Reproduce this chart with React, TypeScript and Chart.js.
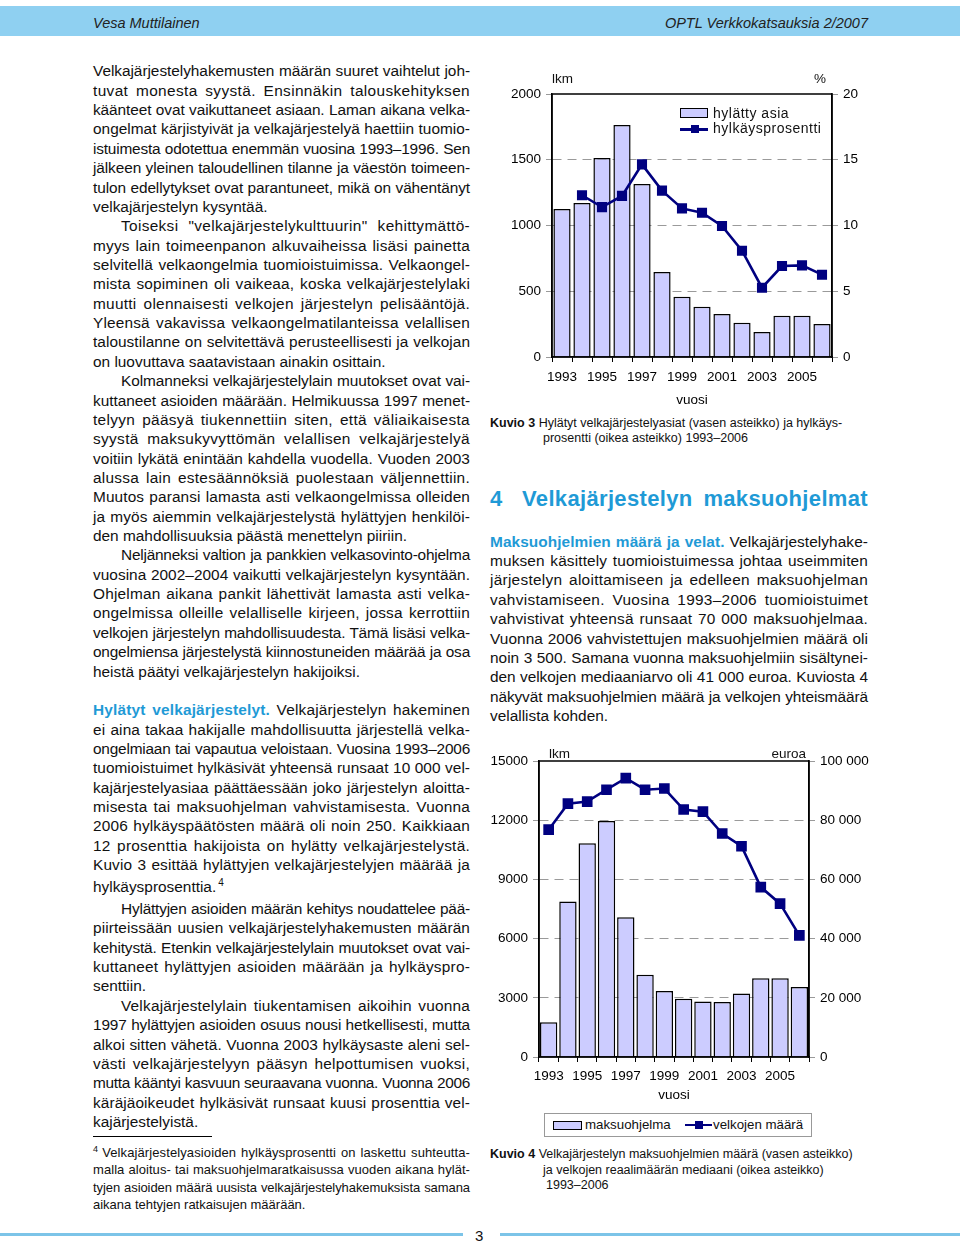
import React, { useEffect, useLayoutEffect, useRef } from 'react';
import { Chart, registerables } from 'chart.js';

Chart.register(...registerables);

// ---------- data ----------
const years = ['1993', '1994', '1995', '1996', '1997', '1998', '1999', '2000', '2001', '2002', '2003', '2004', '2005', '2006'];
const yearTickLabels = ['1993', '', '1995', '', '1997', '', '1999', '', '2001', '', '2003', '', '2005', ''];
const rejectedCases = [1125, 1171, 1513, 1764, 1316, 646, 459, 383, 327, 261, 190, 314, 314, 251];
const rejectionPercent = [null, 12.3, 11.4, 12.25, 14.65, 12.65, 11.3, 10.97, 9.96, 8.08, 5.27, 6.92, 6.97, 6.26];
const paymentPrograms = [1755, 7877, 10826, 11955, 7083, 4164, 3339, 2951, 2816, 2782, 3221, 3997, 3997, 3541];
const debtMedianEur = [76800, 85600, 86300, 90300, 94200, 90300, 90700, 83600, 82900, 75500, 71200, 57400, 51800, 41100];
const casesAxis = { min: 0, max: 2000, step: 500 };
const percentAxis = { min: 0, max: 20, step: 5 };
const programsAxis = { min: 0, max: 15000, step: 3000 };
const euroAxis = { min: 0, max: 100000, step: 20000 };

const FONT = '"Liberation Sans", Arial, Helvetica, sans-serif';
const BLUE = '#1f9ad6';
const NAVY = '#000080';
const BAR = '#ccccff';
const GRID = '#9a9a9a';

Chart.defaults.font.family = FONT;

const framePlugin = {
  id: 'frame',
  afterDatasetsDraw(chart: any) {
    const { ctx, chartArea: a } = chart;
    ctx.save();
    ctx.strokeStyle = '#000';
    ctx.lineWidth = 1.5;
    ctx.strokeRect(a.left, a.top, a.right - a.left, a.bottom - a.top);
    ctx.restore();
  },
};

function makeConfig(o: any) {
  const gridColor = (min: number, max: number) => (c: any) =>
    c.tick && (c.tick.value === min || c.tick.value === max) ? 'rgba(0,0,0,0)' : GRID;
  return {
    type: 'bar',
    data: {
      labels: years,
      datasets: [
        {
          type: 'line',
          data: o.line,
          yAxisID: 'y1',
          borderColor: NAVY,
          backgroundColor: NAVY,
          borderWidth: 2.6,
          pointStyle: 'rect',
          pointRadius: o.pointRadius,
          pointBackgroundColor: NAVY,
          pointBorderColor: NAVY,
          tension: 0,
          order: 0,
        },
        {
          type: 'bar',
          data: o.bars,
          yAxisID: 'y',
          backgroundColor: BAR,
          borderColor: '#000',
          borderWidth: 1.5,
          barPercentage: o.barPct,
          categoryPercentage: 1,
          order: 1,
        },
      ],
    },
    options: {
      responsive: false,
      animation: false,
      events: [],
      layout: { padding: { top: o.padTop, left: 0, right: 0, bottom: 0 } },
      plugins: { legend: { display: false }, tooltip: { enabled: false } },
      scales: {
        x: {
          grid: { display: true, drawOnChartArea: false, drawTicks: true, tickLength: 5, tickColor: '#000', offset: true },
          border: { display: true, color: '#000', width: 1.5 },
          ticks: {
            autoSkip: false, maxRotation: 0, minRotation: 0, padding: o.xPad, color: '#000',
            font: { size: o.fs }, callback: (_v: any, i: number) => yearTickLabels[i],
          },
          title: { display: true, text: 'vuosi', color: '#000', font: { size: o.fs }, padding: { top: 0, bottom: 2 } },
          afterFit: (s: any) => { s.height = o.xH; },
        },
        y: {
          position: 'left',
          min: o.left.min, max: o.left.max,
          ticks: { stepSize: o.left.step, padding: 5, color: '#000', font: { size: o.fs }, callback: (v: any) => String(v) },
          grid: { color: gridColor(o.left.min, o.left.max), lineWidth: 1, tickLength: 6, tickColor: GRID, tickBorderDash: [] },
          border: { display: true, color: '#000', width: 1.5, dash: [9, 6] },
          afterFit: (s: any) => { s.width = o.yW; },
        },
        y1: {
          position: 'right',
          min: o.right.min, max: o.right.max,
          ticks: { stepSize: o.right.step, padding: 5, color: '#000', font: { size: o.fs }, callback: o.rightFmt },
          grid: { drawOnChartArea: false, tickLength: 6, tickColor: GRID },
          border: { display: true, color: '#000', width: 1.5 },
          afterFit: (s: any) => { s.width = o.y1W; },
        },
      },
    },
    plugins: [framePlugin],
  };
}

function ChartBox({ left, top, width, height, make }: any) {
  const ref = useRef<HTMLCanvasElement>(null);
  useEffect(() => {
    const chart = new Chart(ref.current as HTMLCanvasElement, make() as any);
    return () => chart.destroy();
  }, []);
  return <canvas ref={ref} width={width} height={height} style={{ position: 'absolute', left, top, width, height }} />;
}

function At({ x, right, y, fs, children, style }: any) {
  const s: any = { position: 'absolute', top: y - 0.8465 * fs, fontSize: fs, lineHeight: `${fs}px`, whiteSpace: 'nowrap', ...style };
  if (right !== undefined) s.right = 960 - right; else s.left = x;
  return <div style={s}>{children}</div>;
}

// A justified line: tracking is nudged so the line fits its measure, word gaps take the rest.
function FitLine({ children, width, indent = 0, last = false, h, pt = 0, lh, share = 0.6, cap = 0.9 }: any) {
  const box = useRef<HTMLDivElement>(null);
  const span = useRef<HTMLSpanElement>(null);
  useLayoutEffect(() => {
    const d = box.current as HTMLDivElement;
    const sp = span.current as HTMLSpanElement;
    if (!d || !sp) return;
    d.style.textAlign = 'left';
    d.style.textAlignLast = 'left';
    d.style.whiteSpace = 'nowrap';
    sp.style.letterSpacing = '0px';
    const w = sp.getBoundingClientRect().width;
    const n = Math.max(1, (sp.textContent || '').length);
    const avail = width - indent;
    const diff = avail - w;
    let ls = 0;
    if (diff < 0) ls = diff / n - 0.03;
    else if (!last) ls = Math.min((diff * share) / n, cap);
    sp.style.letterSpacing = `${ls}px`;
    d.style.whiteSpace = 'normal';
    d.style.textAlign = last ? 'left' : 'justify';
    d.style.textAlignLast = last ? 'left' : 'justify';
  }, []);
  return (
    <div
      ref={box}
      style={{
        height: h, paddingTop: pt, boxSizing: 'border-box', lineHeight: `${lh}px`,
        textAlign: last ? 'left' : 'justify', textAlignLast: last ? 'left' : 'justify', textIndent: indent,
      } as any}
    >
      <span ref={span}>{children}</span>
    </div>
  );
}

// ---------- text ----------
const lead = (t: string) => <span style={{ color: BLUE, fontWeight: 'bold' }}>{t}</span>;

const leftColumn: any[] = [
  { t: 'Velkajärjestelyhakemusten määrän suuret vaihtelut joh-' },
  { t: 'tuvat monesta syystä. Ensinnäkin talouskehityksen' },
  { t: 'käänteet ovat vaikuttaneet asiaan. Laman aikana velka-' },
  { t: 'ongelmat kärjistyivät ja velkajärjestelyä haettiin tuomio-' },
  { t: 'istuimesta odotettua enemmän vuosina 1993–1996. Sen' },
  { t: 'jälkeen yleinen taloudellinen tilanne ja väestön toimeen-' },
  { t: 'tulon edellytykset ovat parantuneet, mikä on vähentänyt' },
  { t: 'velkajärjestelyn kysyntää.', last: true },
  { t: 'Toiseksi "velkajärjestelykulttuurin" kehittymättö-', ind: true },
  { t: 'myys lain toimeenpanon alkuvaiheissa lisäsi painetta' },
  { t: 'selvitellä velkaongelmia tuomioistuimissa. Velkaongel-' },
  { t: 'mista sopiminen oli vaikeaa, koska velkajärjestelylaki' },
  { t: 'muutti olennaisesti velkojen järjestelyn pelisääntöjä.' },
  { t: 'Yleensä vakavissa velkaongelmatilanteissa velallisen' },
  { t: 'taloustilanne on selvitettävä perusteellisesti ja velkojan' },
  { t: 'on luovuttava saatavistaan ainakin osittain.', last: true },
  { t: 'Kolmanneksi velkajärjestelylain muutokset ovat vai-', ind: true },
  { t: 'kuttaneet asioiden määrään. Helmikuussa 1997 menet-' },
  { t: 'telyyn pääsyä tiukennettiin siten, että väliaikaisesta' },
  { t: 'syystä maksukyvyttömän velallisen velkajärjestelyä' },
  { t: 'voitiin lykätä enintään kahdella vuodella. Vuoden 2003' },
  { t: 'alussa lain estesäännöksiä puolestaan väljennettiin.' },
  { t: 'Muutos paransi lamasta asti velkaongelmissa olleiden' },
  { t: 'ja myös aiemmin velkajärjestelystä hylättyjen henkilöi-' },
  { t: 'den mahdollisuuksia päästä menettelyn piiriin.', last: true },
  { t: 'Neljänneksi valtion ja pankkien velkasovinto-ohjelma', ind: true },
  { t: 'vuosina 2002–2004 vaikutti velkajärjestelyn kysyntään.' },
  { t: 'Ohjelman aikana pankit lähettivät lamasta asti velka-' },
  { t: 'ongelmissa olleille velalliselle kirjeen, jossa kerrottiin' },
  { t: 'velkojen järjestelyn mahdollisuudesta. Tämä lisäsi velka-' },
  { t: 'ongelmiensa järjestelystä kiinnostuneiden määrää ja osa' },
  { t: 'heistä päätyi velkajärjestelyn hakijoiksi.', last: true },
  { t: '', last: true },
  { t: <>{lead('Hylätyt velkajärjestelyt.')} Velkajärjestelyn hakeminen</> },
  { t: 'ei aina takaa hakijalle mahdollisuutta järjestellä velka-' },
  { t: 'ongelmiaan tai vapautua veloistaan. Vuosina 1993–2006' },
  { t: 'tuomioistuimet hylkäsivät yhteensä runsaat 10 000 vel-' },
  { t: 'kajärjestelyasiaa päättäessään joko järjestelyn aloitta-' },
  { t: 'misesta tai maksuohjelman vahvistamisesta. Vuonna' },
  { t: '2006 hylkäyspäätösten määrä oli noin 250. Kaikkiaan' },
  { t: '12 prosenttia hakijoista on hylätty velkajärjestelystä.' },
  { t: 'Kuvio 3 esittää hylättyjen velkajärjestelyjen määrää ja' },
  { t: <>hylkäysprosenttia.<sup style={{ fontSize: 10, lineHeight: 0, marginLeft: 2 }}>4</sup></>, last: true, sup: true },
  { t: 'Hylättyjen asioiden määrän kehitys noudattelee pää-', ind: true },
  { t: 'piirteissään uusien velkajärjestelyhakemusten määrän' },
  { t: 'kehitystä. Etenkin velkajärjestelylain muutokset ovat vai-' },
  { t: 'kuttaneet hylättyjen asioiden määrään ja hylkäyspro-' },
  { t: 'senttiin.', last: true },
  { t: 'Velkajärjestelylain tiukentamisen aikoihin vuonna', ind: true },
  { t: '1997 hylättyjen asioiden osuus nousi hetkellisesti, mutta' },
  { t: 'alkoi sitten vähetä. Vuonna 2003 hylkäysaste aleni sel-' },
  { t: 'västi velkajärjestelyyn pääsyn helpottumisen vuoksi,' },
  { t: 'mutta kääntyi kasvuun seuraavana vuonna. Vuonna 2006' },
  { t: 'käräjäoikeudet hylkäsivät runsaat kuusi prosenttia vel-' },
  { t: 'kajärjestelyistä.', last: true },
];

const rightColumn: any[] = [
  { t: <>{lead('Maksuohjelmien määrä ja velat.')} Velkajärjestelyhake-</> },
  { t: 'muksen käsittely tuomioistuimessa johtaa useimmiten' },
  { t: 'järjestelyn aloittamiseen ja edelleen maksuohjelman' },
  { t: 'vahvistamiseen. Vuosina 1993–2006 tuomioistuimet' },
  { t: 'vahvistivat yhteensä runsaat 70 000 maksuohjelmaa.' },
  { t: 'Vuonna 2006 vahvistettujen maksuohjelmien määrä oli' },
  { t: 'noin 3 500. Samana vuonna maksuohjelmiin sisältynei-' },
  { t: 'den velkojen mediaaniarvo oli 41 000 euroa. Kuviosta 4' },
  { t: 'näkyvät maksuohjelmien määrä ja velkojen yhteismäärä' },
  { t: 'velallista kohden.', last: true },
];

const footnote: any[] = [
  { t: <><sup style={{ fontSize: 9, lineHeight: 0, marginRight: 4 }}>4</sup>Velkajärjestelyasioiden hylkäysprosentti on laskettu suhteutta-</> },
  { t: 'malla aloitus- tai maksuohjelmaratkaisussa vuoden aikana hylät-' },
  { t: 'tyjen asioiden määrä uusista velkajärjestelyhakemuksista samana' },
  { t: 'aikana tehtyjen ratkaisujen määrään.', last: true },
];

function Block({ lines, left, top, width, fs, lh }: any) {
  return (
    <div style={{ position: 'absolute', left, top, width, fontSize: fs }}>
      {lines.map((l: any, i: number) => (
        <FitLine
          key={i}
          width={width}
          indent={l.ind ? 28 : 0}
          last={!!l.last}
          h={l.sup ? lh + 5.2 : lh}
          pt={l.sup ? 2.6 : 0}
          lh={lh}
        >
          {l.t}
        </FitLine>
      ))}
    </div>
  );
}

const euroFmt = (v: any) => (v === 0 ? '0' : `${v / 1000} 000`);

export default function App() {
  return (
    <div style={{ position: 'absolute', left: 0, top: 0, width: 960, height: 1243, overflow: 'hidden', background: '#fff', fontFamily: FONT, color: '#111' }}>
      {/* header */}
      <div style={{ position: 'absolute', left: 0, top: 6, width: 960, height: 30, background: '#8fd0f1' }} />
      <At x={93} y={28} fs={14.5} style={{ fontStyle: 'italic', color: '#222' }}>Vesa Muttilainen</At>
      <At right={868} y={28} fs={14.5} style={{ fontStyle: 'italic', color: '#222' }}>OPTL Verkkokatsauksia 2/2007</At>

      {/* left column */}
      <Block lines={leftColumn} left={93} top={61.4} width={377} fs={15.4} lh={19.36} />
      <div style={{ position: 'absolute', left: 93, top: 1136, width: 119, height: 1, background: '#000' }} />
      <Block lines={footnote} left={93} top={1144.4} width={377} fs={13} lh={17.1} />

      {/* chart 3 */}
      <ChartBox
        left={495} top={60} width={380} height={350}
        make={() => makeConfig({
          bars: rejectedCases, line: rejectionPercent, left: casesAxis, right: percentAxis,
          padTop: 34, yW: 57, y1W: 43, xH: 53, xPad: 7.5, fs: 13.5, barPct: 0.86, pointRadius: 5.3,
          rightFmt: (v: any) => `${v}`,
        })}
      />
      <At x={552} y={83.3} fs={13.5}>lkm</At>
      <At right={826} y={83.3} fs={13.5}>%</At>
      <div style={{ position: 'absolute', left: 680, top: 108, width: 28, height: 10, background: BAR, border: '1.5px solid #000', boxSizing: 'border-box' }} />
      <At x={713} y={118.3} fs={14} style={{ letterSpacing: 0.5 }}>hylätty asia</At>
      <div style={{ position: 'absolute', left: 680, top: 128, width: 28, height: 2.6, background: NAVY }} />
      <div style={{ position: 'absolute', left: 690.5, top: 125.3, width: 8, height: 8, background: NAVY }} />
      <At x={713} y={133.3} fs={14} style={{ letterSpacing: 0.5 }}>hylkäysprosentti</At>

      <At x={490} y={428} fs={12.5}><b>Kuvio 3</b> Hylätyt velkajärjestelyasiat (vasen asteikko) ja hylkäys-</At>
      <At x={543} y={443} fs={12.5}>prosentti (oikea asteikko) 1993–2006</At>

      {/* heading */}
      <At x={490} y={506.7} fs={22} style={{ color: BLUE, fontWeight: 'bold' }}>4</At>
      <div style={{ position: 'absolute', left: 522, top: 506.7 - 0.8465 * 22, width: 346, fontSize: 22, color: BLUE, fontWeight: 'bold' }}>
        <FitLine width={346} lh={22} h={22} share={0.7} cap={1.2}>Velkajärjestelyn maksuohjelmat</FitLine>
      </div>

      <Block lines={rightColumn} left={490} top={531.7} width={378} fs={15.4} lh={19.4} />

      {/* chart 4 */}
      <ChartBox
        left={485} top={740} width={390} height={365}
        make={() => makeConfig({
          bars: paymentPrograms, line: debtMedianEur, left: programsAxis, right: euroAxis,
          padTop: 21, yW: 54, y1W: 66, xH: 48, xPad: 6.5, fs: 13.5, barPct: 0.9, pointRadius: 5.7,
          rightFmt: euroFmt,
        })}
      />
      <At x={549} y={758.3} fs={13.5}>lkm</At>
      <At right={806} y={758.3} fs={13.5}>euroa</At>
      <div style={{ position: 'absolute', left: 544, top: 1113, width: 268, height: 24, border: '1px solid #999', boxSizing: 'border-box' }} />
      <div style={{ position: 'absolute', left: 553, top: 1120.5, width: 29, height: 9, background: BAR, border: '1.5px solid #000', boxSizing: 'border-box' }} />
      <At x={585} y={1129.5} fs={13.3}>maksuohjelma</At>
      <div style={{ position: 'absolute', left: 685, top: 1123.8, width: 27, height: 2.6, background: NAVY }} />
      <div style={{ position: 'absolute', left: 695, top: 1121, width: 8, height: 8, background: NAVY }} />
      <At x={713} y={1129.5} fs={13.3}>velkojen määrä</At>

      <At x={490} y={1158.3} fs={12.5}><b>Kuvio 4</b> Velkajärjestelyn maksuohjelmien määrä (vasen asteikko)</At>
      <At x={543} y={1174.3} fs={12.5}>ja velkojen reaalimäärän mediaani (oikea asteikko)</At>
      <At x={546} y={1190} fs={12.5}>1993–2006</At>

      {/* footer */}
      <div style={{ position: 'absolute', left: 0, top: 1232.5, width: 463, height: 3.5, background: '#7cc4e8' }} />
      <div style={{ position: 'absolute', left: 500, top: 1232.5, width: 460, height: 3.5, background: '#7cc4e8' }} />
      <At x={475} y={1240.5} fs={15}>3</At>
    </div>
  );
}
